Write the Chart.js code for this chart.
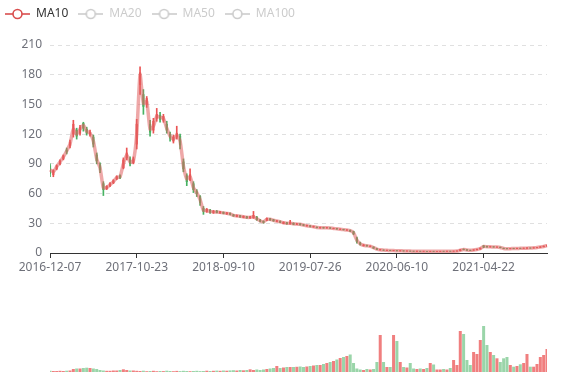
<!DOCTYPE html>
<html>
<head>
<meta charset="utf-8">
<script src="https://cdn.jsdelivr.net/npm/chart.js@4.4.1/dist/chart.umd.min.js"></script>
<style>
  html, body { margin: 0; padding: 0; background: #fff; }
  #wrap { position: relative; width: 577px; height: 380px; }
  #price { position: absolute; left: 0; top: 0; }
  #volume { position: absolute; left: 0; top: 290px; }
</style>
</head>
<body>
<div id="wrap">
  <canvas id="price" width="577" height="280"></canvas>
  <canvas id="volume" width="577" height="90"></canvas>
</div>
<script>
// x axis labels, one every tickEvery samples
const tickLabels = ['2016-12-07', '2017-10-23', '2018-09-10', '2019-07-26', '2020-06-10', '2021-04-22']
const tickEvery = 26
const maNames = ['MA10', 'MA20', 'MA50', 'MA100']

const ma10 = [
  84, 82, 87, 92, 97, 103, 110, 125, 120, 125,
  129, 123, 121, 113, 95, 86, 66, 66, 69, 72,
  76, 77, 90, 99, 92, 93, 120, 180, 151, 153,
  125, 128, 138, 137, 136, 126, 118, 115, 119, 113,
  88, 75, 77, 66, 61, 54, 43, 43, 42, 41.5,
  41.5, 41, 40.5, 40, 39.5, 38, 37.5, 37, 36.5, 36,
  36, 36.5, 34.5, 32.5, 31.5, 34, 34, 33, 32.3, 31.5,
  30.5, 30, 30, 29.5, 29.2, 29, 28.2, 27.5, 27, 26.5,
  25.8, 25.6, 25.5, 25.4, 25.2, 24.8, 24.4, 24, 23.6, 23.2,
  22.5, 20.5, 13, 9.2, 7.8, 7.3, 6.8, 5.5, 4, 3.2,
  2.9, 2.7, 2.5, 2.4, 2.3, 2.2, 2.1, 2, 1.9, 1.8,
  1.8, 1.75, 1.75, 1.7, 1.7, 1.7, 1.7, 1.72, 1.75, 1.78,
  1.8, 1.85, 2, 2.8, 3.6, 3, 2.7, 3, 3.6, 4.4,
  6.6, 6.3, 6.2, 6.1, 6, 5.6, 4.6, 4.3, 4.4, 4.5,
  4.6, 4.7, 4.8, 4.9, 5, 5.2, 5.5, 6, 6.6, 7.5,
]

const openPrice = [
  88, 79, 85, 90, 95, 104, 108, 120, 124, 121,
  131, 125, 120, 117, 99, 89, 70, 65, 68, 71,
  75, 78, 86, 96, 95, 91, 110, 170, 160, 150,
  130, 124, 136, 139, 134, 130, 120, 113, 117, 118,
  92, 78, 74, 70, 62, 57, 45, 42, 43, 41,
  42, 40.5, 41, 39.5, 40, 38.5, 37, 37.5, 36, 36.5,
  35.5, 35.5, 36, 33, 32, 33, 34.5, 33.5, 32, 32,
  30, 30.5, 29.5, 30, 29, 29.3, 28.5, 27.3, 27.3, 26.3,
  26, 25.4, 25.7, 25.3, 25.4, 24.7, 24.6, 23.9, 23.8, 23.1,
  23, 21.5, 15, 10, 7.5, 7.6, 6.7, 6, 4.3, 3.1,
  3, 2.6, 2.6, 2.3, 2.4, 2.1, 2.2, 1.95, 1.95, 1.82,
  1.77, 1.78, 1.73, 1.72, 1.68, 1.72, 1.68, 1.7, 1.77, 1.76,
  1.82, 1.8, 1.9, 2.3, 3.8, 3.3, 2.8, 2.8, 3.3, 4,
  7.2, 6.6, 6.1, 6.3, 5.9, 5.9, 4.8, 4.4, 4.3, 4.6,
  4.5, 4.8, 4.7, 4.8, 5.1, 5, 5.4, 5.7, 6.3, 7,
]

const closePrice = [
  80, 83, 88, 93, 98, 102, 112, 130, 118, 127,
  126, 121, 122, 110, 93, 84, 64, 67, 70, 73,
  77, 76, 94, 101, 90, 95, 130, 182, 148, 156,
  122, 133, 140, 135, 138, 124, 116, 117, 121, 109,
  85, 72, 79, 64, 60, 51, 42, 44, 41, 42,
  41, 41.5, 40, 40.5, 39, 37.5, 38, 36.5, 37, 35.5,
  36.5, 38, 33.5, 32, 31, 35, 33.5, 32.5, 32.6, 31,
  31, 29.5, 31, 29, 29.4, 28.7, 28, 27.7, 26.8, 26.7,
  25.6, 25.8, 25.3, 25.5, 25, 24.9, 24.2, 24.1, 23.4, 23.3,
  22, 19.5, 11.5, 8.8, 8, 7.1, 6.9, 5, 3.7, 3.4,
  2.8, 2.8, 2.4, 2.5, 2.2, 2.3, 2, 2.05, 1.85, 1.78,
  1.83, 1.72, 1.77, 1.68, 1.72, 1.68, 1.72, 1.74, 1.73, 1.8,
  1.78, 1.9, 2.1, 3.3, 3.4, 2.8, 2.6, 3.2, 3.8, 4.8,
  6, 6.1, 6.3, 6, 6.1, 5.4, 4.5, 4.3, 4.5, 4.4,
  4.7, 4.6, 4.9, 5.1, 4.9, 5.3, 5.6, 6.2, 6.9, 7.8,
]

const lowPrice = [
  77, 77, 84, 89, 94, 100, 106, 117, 115, 119,
  123, 119, 118, 107, 90, 81, 58, 64, 67, 70,
  74, 75, 85, 94, 88, 90, 105, 160, 140, 147,
  118, 121, 133, 132, 132, 121, 113, 111, 115, 105,
  82, 68, 73, 61, 57, 48, 39, 41, 40, 40,
  40.5, 40, 39.5, 39, 38.5, 37, 36.5, 36, 35.5, 35,
  35, 35, 33, 31.5, 30, 32.5, 33, 32, 31.5, 30.5,
  29.5, 29, 29, 28.5, 28.5, 28.2, 27.5, 27, 26.3, 26,
  25.2, 25, 25, 25, 24.7, 24.4, 24, 23.6, 23.2, 22.8,
  21.6, 18.5, 10, 8, 7, 6.8, 6.3, 4.6, 3.4, 2.9,
  2.6, 2.5, 2.3, 2.2, 2.1, 2, 1.9, 1.85, 1.8, 1.7,
  1.7, 1.68, 1.68, 1.62, 1.62, 1.62, 1.62, 1.65, 1.68, 1.7,
  1.72, 1.75, 1.85, 2.2, 3.2, 2.6, 2.4, 2.7, 3.2, 3.9,
  5.4, 5.9, 5.9, 5.8, 5.7, 5.2, 4.3, 4.1, 4.2, 4.3,
  4.4, 4.5, 4.6, 4.7, 4.8, 4.9, 5.2, 5.6, 6.2, 6.9,
]

const highPrice = [
  90, 84, 89, 94, 99, 106, 114, 134, 126, 129,
  132, 127, 124, 119, 101, 91, 72, 68, 71, 74,
  78, 79, 96, 106, 97, 97, 135, 188, 165, 158,
  134, 136, 146, 142, 140, 133, 122, 119, 128, 120,
  95, 80, 85, 72, 64, 58, 47, 45, 44, 43,
  43, 42, 41.5, 41, 40.5, 39, 38.5, 38, 37.5, 37,
  37, 42, 37, 34, 32.5, 35.5, 35, 34, 33, 32.5,
  31.5, 31, 33, 30.5, 30, 29.8, 29, 28.2, 27.8, 27.2,
  26.4, 26.2, 26, 25.9, 25.7, 25.2, 24.8, 24.4, 24, 23.6,
  23.2, 22, 16, 11, 8.6, 8, 7.3, 6.3, 4.6, 3.7,
  3.2, 3, 2.8, 2.6, 2.5, 2.4, 2.3, 2.15, 2, 1.9,
  1.9, 1.85, 1.85, 1.8, 1.8, 1.78, 1.78, 1.8, 1.82, 1.85,
  1.88, 2, 2.3, 3.6, 4.2, 3.5, 2.9, 3.4, 4, 5.2,
  7.6, 6.9, 6.6, 6.5, 6.3, 6, 5, 4.6, 4.7, 4.8,
  4.9, 4.9, 5.1, 5.4, 5.2, 5.5, 5.8, 6.5, 7.2, 8.2,
]

const volume = [
  1.2, 1, 1, 1.2, 1, 1.3, 1.5, 3, 3.5, 3.5,
  4, 4.3, 4, 3.5, 3, 2, 1.5, 1.2, 1.2, 1.5,
  1.5, 2, 2.7, 2, 1.5, 1.5, 1.2, 1, 1.3, 0.8,
  1, 1.2, 0.8, 1, 0.9, 1.3, 1, 0.8, 1.1, 0.9,
  1.2, 1, 0.8, 1, 1.2, 0.9, 1, 1.3, 1, 1.2,
  1.4, 1.2, 1.5, 1.3, 1.6, 1.8, 1.5, 2, 1.7, 2,
  2.7, 2, 2.5, 2, 2.5, 3, 3.5, 4, 6, 4,
  4.5, 5, 5, 5, 5.2, 5.5, 5, 5.5, 6, 6.5,
  7, 7, 8, 9, 10, 11, 12.5, 14, 15, 16,
  17.5, 9, 3.5, 2.5, 2, 3, 2.5, 3, 10, 37,
  10, 5, 5, 37, 31, 10, 5, 4.5, 9, 3.5,
  3, 3.5, 3, 4, 9, 7.5, 2.5, 2.5, 3, 2.5,
  4, 12, 7, 41, 38, 12, 7, 20, 18, 32,
  46, 27, 20, 17, 13.7, 10, 13.7, 15, 7, 5.3,
  6, 7.7, 9, 18, 5.3, 5.3, 8, 15, 17, 23,
]

const upColor = '#eb5454'
const downColor = '#47b262'
const maColor = '#d94e4e'
const labels = ma10.map((_, i) => i)
const isUp = openPrice.map((o, i) => closePrice[i] >= o)

Chart.defaults.font.family = "'Noto Sans', sans-serif"
Chart.defaults.font.size = 12

// ECharts-like legend icon: short line with hollow circle
function legendIcon(color) {
  const c = document.createElement('canvas')
  c.width = 25
  c.height = 14
  const g = c.getContext('2d')
  g.strokeStyle = color
  g.lineWidth = 1.6
  g.beginPath()
  g.moveTo(0, 7)
  g.lineTo(25, 7)
  g.stroke()
  g.beginPath()
  g.arc(12.5, 7, 4.5, 0, Math.PI * 2)
  g.fillStyle = '#fff'
  g.fill()
  g.stroke()
  return c
}

const legendPlace = {
  id: 'legendPlace',
  afterInit(chart) {
    const fit = chart.legend.fit
    chart.legend.fit = function () {
      fit.call(this)
      this.height = 45
    }
  },
  afterLayout(chart) {
    chart.legend.left = -5
    chart.legend.top = -2
  },
}

new Chart(document.getElementById('price').getContext('2d'), {
  type: 'bar',
  data: {
    labels,
    datasets: [
      {
        type: 'line',
        label: 'MA10',
        data: ma10,
        borderColor: 'rgba(224,96,96,0.55)',
        borderWidth: 3.5,
        pointRadius: 0,
        tension: 0.2,
        order: 0,
      },
      {
        label: 'body',
        data: openPrice.map((o, i) => [o, closePrice[i]]),
        backgroundColor: isUp.map((u) => (u ? upColor : downColor)),
        barThickness: 1.5,
        grouped: false,
        order: 1,
      },
      {
        label: 'wick',
        data: lowPrice.map((l, i) => [l, highPrice[i]]),
        backgroundColor: isUp.map((u) => (u ? upColor : downColor)),
        barThickness: 1,
        grouped: false,
        order: 2,
      },
    ],
  },
  options: {
    responsive: false,
    animation: false,
    layout: { padding: { left: 0, right: 30, top: 0, bottom: 0 } },
    plugins: {
      legend: {
        display: true,
        position: 'top',
        align: 'start',
        onClick: null,
        labels: {
          usePointStyle: true,
          pointStyleWidth: 25,
          padding: 10,
          font: { size: 12 },
          generateLabels: () =>
            maNames.map((name, i) => ({
              text: name,
              pointStyle: legendIcon(i === 0 ? maColor : '#cccccc'),
              fontColor: i === 0 ? '#333333' : '#cccccc',
              hidden: false,
              lineWidth: 0,
              datasetIndex: i === 0 ? 0 : undefined,
            })),
        },
      },
      tooltip: { enabled: false },
    },
    scales: {
      x: {
        type: 'category',
        offset: false,
        afterBuildTicks: (scale) => {
          scale.ticks = scale.ticks.filter((t) => t.value % tickEvery === 0)
        },
        ticks: {
          autoSkip: false,
          maxRotation: 0,
          color: '#6e7079',
          padding: 2,
          callback: (value) => tickLabels[value / tickEvery],
        },
        grid: { drawOnChartArea: false, offset: false, tickLength: 5, color: '#333' },
        border: { color: '#333' },
        afterFit: (scale) => {
          scale.height = 27
        },
      },
      y: {
        min: 0,
        max: 210,
        ticks: { stepSize: 30, color: '#6e7079', padding: 8 },
        grid: { color: '#e0e0e0', drawTicks: false },
        border: { display: false, dash: [4, 4] },
        afterFit: (scale) => {
          scale.width = 50
        },
      },
    },
  },
  plugins: [legendPlace],
})

new Chart(document.getElementById('volume').getContext('2d'), {
  type: 'bar',
  data: {
    labels,
    datasets: [
      {
        label: 'Volume',
        data: volume,
        backgroundColor: isUp.map((u) => (u ? 'rgba(235,84,84,0.75)' : 'rgba(71,178,98,0.55)')),
        barPercentage: 1,
        categoryPercentage: 0.9,
      },
    ],
  },
  options: {
    responsive: false,
    animation: false,
    layout: { padding: { left: 50, right: 30, top: 30, bottom: 8 } },
    plugins: { legend: { display: false }, tooltip: { enabled: false } },
    scales: {
      x: { display: false, offset: false },
      y: { display: false, min: 0, max: 52 },
    },
  },
})
</script>
</body>
</html>
